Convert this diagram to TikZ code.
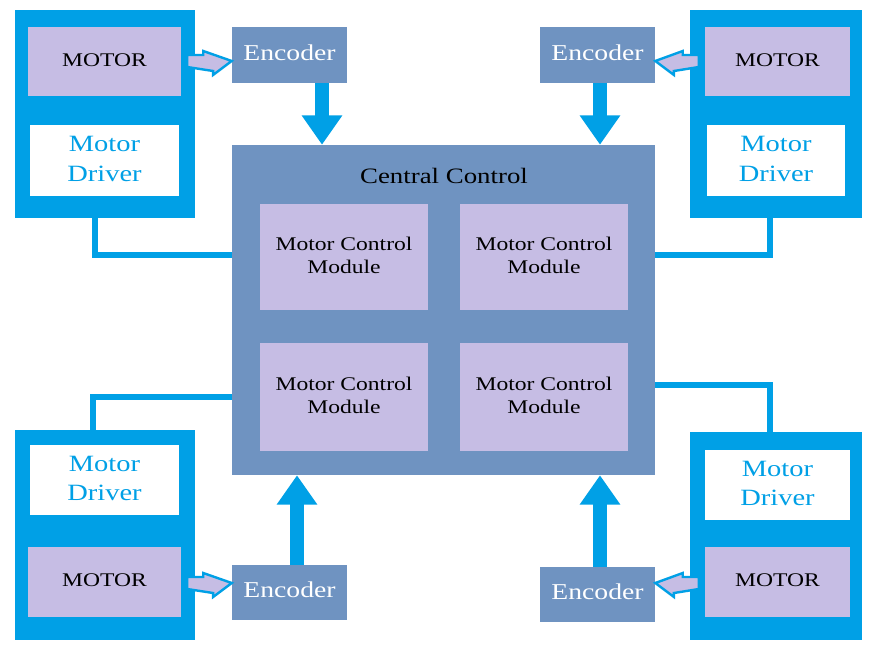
\documentclass[tikz,border=0pt]{standalone}
\usepackage{fontspec}
\setmainfont{Liberation Serif}
\usetikzlibrary{arrows.meta}
\definecolor{fb}{HTML}{00A0E6}
\definecolor{cc}{HTML}{6F93C1}
\definecolor{lv}{HTML}{C6BDE4}
\newcommand\sx[1]{\scalebox{1.22}[1]{\begin{tabular}{@{}c@{}}#1\end{tabular}}}
\begin{document}
\begin{tikzpicture}[x=0.75pt,y=-0.75pt,
 frame/.style={fill=fb,draw=none},
 motorbox/.style={fill=lv,draw=none,inner sep=0pt,font=\fontsize{14.5}{17}\selectfont},
 drvbox/.style={fill=white,draw=none,inner sep=0pt,text=fb,font=\fontsize{17.5}{22}\selectfont},
 encbox/.style={fill=cc,draw=none,inner sep=0pt,text=white,font=\fontsize{17}{20}\selectfont},
 mcm/.style={fill=lv,draw=none,inner sep=0pt,font=\fontsize{14.5}{17.5}\selectfont},
 bigarrow/.style={draw=fb,line width=10.5pt,-{Triangle[length=22pt,width=29pt]}},
 wire/.style={draw=fb,line width=5pt},
 marrow/.style={fill=lv,draw=fb,line width=1.8pt,line join=miter}]
\useasboundingbox (0,0) rectangle (877,651);
\fill[white] (0,0) rectangle (877,651);
% central
\node[fill=cc,inner sep=0pt,minimum width=423*0.75pt,minimum height=330*0.75pt] (cen) at (443.5,310) {};
\node[font=\fontsize{16.5}{19}\selectfont] (ct) at (444,178) {\sx{Central Control}};
\node[mcm,minimum width=168*0.75pt,minimum height=106*0.75pt] (m1) at (344,257) {\sx{Motor Control\\Module}};
\node[mcm,minimum width=168*0.75pt,minimum height=106*0.75pt] (m2) at (544,257) {\sx{Motor Control\\Module}};
\node[mcm,minimum width=168*0.75pt,minimum height=108*0.75pt] (m3) at (344,397) {\sx{Motor Control\\Module}};
\node[mcm,minimum width=168*0.75pt,minimum height=108*0.75pt] (m4) at (544,397) {\sx{Motor Control\\Module}};
% frames
\node[frame,minimum width=180*0.75pt,minimum height=208*0.75pt,inner sep=0pt] (f1) at (105,114) {};
\node[frame,minimum width=172*0.75pt,minimum height=208*0.75pt,inner sep=0pt] (f2) at (776,114) {};
\node[frame,minimum width=180*0.75pt,minimum height=210*0.75pt,inner sep=0pt] (f3) at (105,535) {};
\node[frame,minimum width=172*0.75pt,minimum height=208*0.75pt,inner sep=0pt] (f4) at (776,536) {};
% inner boxes
\node[motorbox,minimum width=153*0.75pt,minimum height=69*0.75pt] (mo1) at (104.5,61.5) {\sx{MOTOR}};
\node[drvbox,minimum width=149*0.75pt,minimum height=71*0.75pt] (d1) at (104.5,160.5) {\sx{Motor\\Driver}};
\node[motorbox,minimum width=145*0.75pt,minimum height=69*0.75pt] (mo2) at (777.5,61.5) {\sx{MOTOR}};
\node[drvbox,minimum width=138*0.75pt,minimum height=71*0.75pt] (d2) at (776,160.5) {\sx{Motor\\Driver}};
\node[drvbox,minimum width=149*0.75pt,minimum height=70*0.75pt] (d3) at (104.5,480) {\sx{Motor\\Driver}};
\node[motorbox,minimum width=153*0.75pt,minimum height=70*0.75pt] (mo3) at (104.5,582) {\sx{MOTOR}};
\node[drvbox,minimum width=145*0.75pt,minimum height=70*0.75pt] (d4) at (777.5,485) {\sx{Motor\\Driver}};
\node[motorbox,minimum width=145*0.75pt,minimum height=70*0.75pt] (mo4) at (777.5,582) {\sx{MOTOR}};
% encoders
\node[encbox,minimum width=115*0.75pt,minimum height=56*0.75pt] (e1) at (289.5,55) {\sx{Encoder}};
\node[encbox,minimum width=115*0.75pt,minimum height=56*0.75pt] (e2) at (597.5,55) {\sx{Encoder}};
\node[encbox,minimum width=115*0.75pt,minimum height=55*0.75pt] (e3) at (289.5,592.5) {\sx{Encoder}};
\node[encbox,minimum width=115*0.75pt,minimum height=55*0.75pt] (e4) at (597.5,594.5) {\sx{Encoder}};
% big arrows
\draw[bigarrow] (e1.south -| 322,0) -- (cen.north -| 322,0);
\draw[bigarrow] (e2.south -| 600,0) -- (cen.north -| 600,0);
\draw[bigarrow] (e3.north -| 297,0) -- (cen.south -| 297,0);
\draw[bigarrow] (e4.north -| 600,0) -- (cen.south -| 600,0);
% wires
\draw[wire] (f1.south -| 95,0) |- (cen.west |- 0,255);
\draw[wire] (f2.south -| 770,0) |- (cen.east |- 0,255);
\draw[wire] (f3.north -| 93,0) |- (cen.west |- 0,397);
\draw[wire] (f4.north -| 770,0) |- (cen.east |- 0,385);
% motor arrows
\coordinate (a1) at (mo1.east |- 0,61);
\draw[marrow] ([xshift=6*0.75pt,yshift=4.5pt]a1) -- ++(12pt,0) -- ++(0,3pt) -- (e1.west |- a1) -- ++(-14pt,-10.5pt) -- ++(0,3pt) -- ([xshift=6*0.75pt,yshift=-4.5pt]a1) -- cycle;
\coordinate (a2) at (mo2.west |- 0,61);
\draw[marrow] ([xshift=-6*0.75pt,yshift=4.5pt]a2) -- ++(-12pt,0) -- ++(0,3pt) -- (e2.east |- a2) -- ++(14pt,-10.5pt) -- ++(0,3pt) -- ([xshift=-6*0.75pt,yshift=-4.5pt]a2) -- cycle;
\coordinate (a3) at (mo3.east |- 0,583);
\draw[marrow] ([xshift=6*0.75pt,yshift=4.5pt]a3) -- ++(12pt,0) -- ++(0,3pt) -- (e3.west |- a3) -- ++(-14pt,-10.5pt) -- ++(0,3pt) -- ([xshift=6*0.75pt,yshift=-4.5pt]a3) -- cycle;
\coordinate (a4) at (mo4.west |- 0,583);
\draw[marrow] ([xshift=-6*0.75pt,yshift=4.5pt]a4) -- ++(-12pt,0) -- ++(0,3pt) -- (e4.east |- a4) -- ++(14pt,-10.5pt) -- ++(0,3pt) -- ([xshift=-6*0.75pt,yshift=-4.5pt]a4) -- cycle;
\end{tikzpicture}
\end{document}
